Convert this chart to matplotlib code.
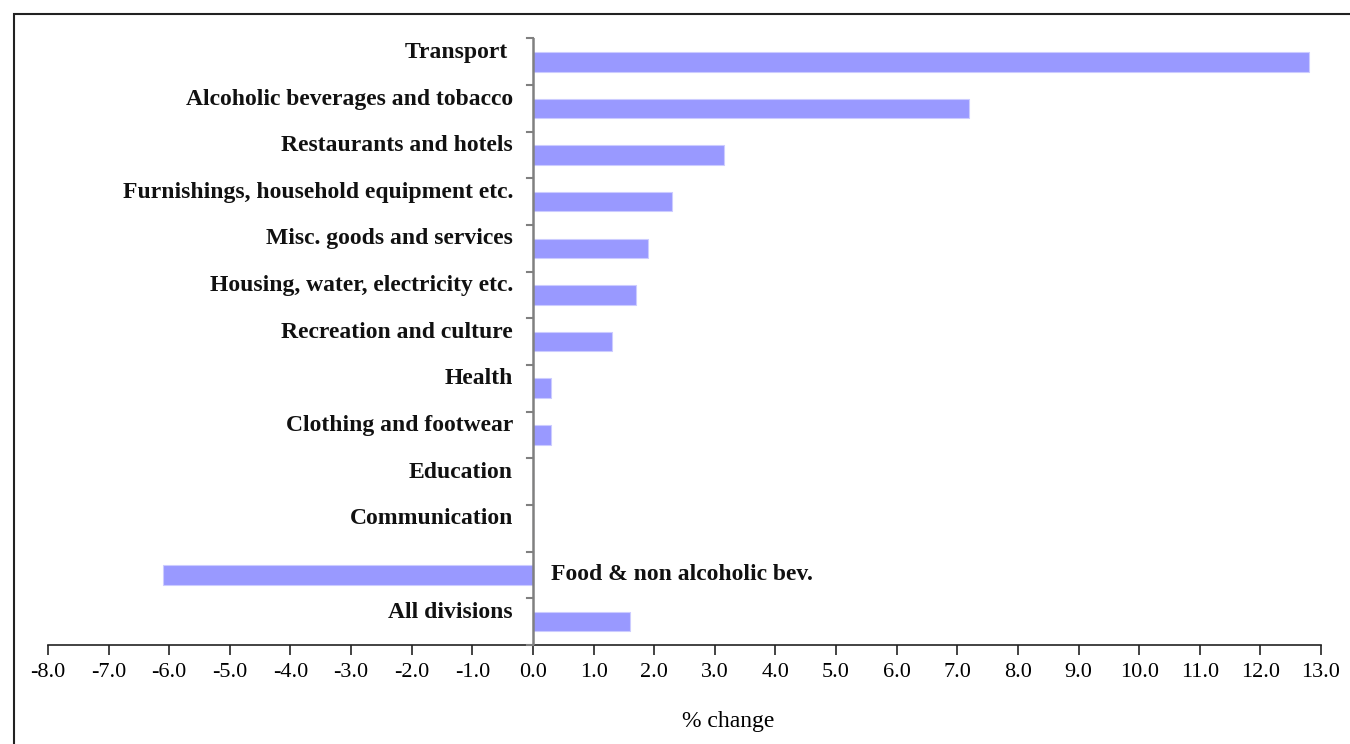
import matplotlib.pyplot as plt
from matplotlib.patches import Rectangle

# categories top to bottom
labels = ["Transport ", "Alcoholic beverages and tobacco", "Restaurants and hotels",
          "Furnishings, household equipment etc.", "Misc. goods and services",
          "Housing, water, electricity etc.", "Recreation and culture", "Health",
          "Clothing and footwear", "Education", "Communication",
          "Food & non alcoholic bev.", "All divisions"]
values = [12.8, 7.2, 3.15, 2.3, 1.9, 1.7, 1.3, 0.3, 0.3, 0.0, 0.0, -6.1, 1.6]
xticks = [-8, -7, -6, -5, -4, -3, -2, -1, 0, 1, 2, 3, 4, 5, 6, 7, 8, 9, 10, 11, 12, 13]

serif = ["Liberation Serif", "DejaVu Serif"]

fig = plt.figure(figsize=(13.5, 7.44), dpi=100)
ax = fig.add_axes([48/1350, 1-644.8/744, (1321-48)/1350, (644.8-38.4)/744])

pos = list(range(len(labels)))
ax.barh(pos, values, height=0.42, color="#9999ff", edgecolor="#ccccff", linewidth=0.8, zorder=2)

ax.set_xlim(-8, 13)
ax.set_ylim(len(labels)-0.5, -0.5)

for i, (lab, v) in enumerate(zip(labels, values)):
    if v < 0:
        ax.text(0.3, i, lab, ha="left", va="center", fontsize=17, fontweight="bold",
                family=serif, color="#111111")
    else:
        ax.text(-0.33, i-0.2, lab, ha="right", va="center", fontsize=17, fontweight="bold",
                family=serif, color="#111111")

ax.set_xticks(xticks)
ax.set_xticklabels(["%.1f" % t for t in xticks], family=serif, fontsize=16)
ax.tick_params(axis="x", length=7, width=1.2, color="#222222", pad=6, direction="out")
ax.set_yticks([])

for s in ["top", "right", "left"]:
    ax.spines[s].set_visible(False)
ax.spines["bottom"].set_color("#222222")
ax.spines["bottom"].set_linewidth(1.2)
ax.axvline(0, color="#808080", linewidth=1.8, zorder=3)

# y axis tick marks drawn along the zero line
for p in range(-1, len(labels)):
    ax.plot([-0.1, 0], [p + 0.5, p + 0.5], color="#808080", linewidth=1.5, zorder=3, clip_on=False)

fig.text(728/1350, 1-722/744, "% change", ha="center", va="center", fontsize=17, family=serif)

# outer frame
fig.patches.append(Rectangle((14/1350, -0.1), 1.2, 1-14/744+0.1, transform=fig.transFigure,
                             fill=False, edgecolor="#222222", linewidth=1.5))

fig.savefig("out.png", dpi=100)
